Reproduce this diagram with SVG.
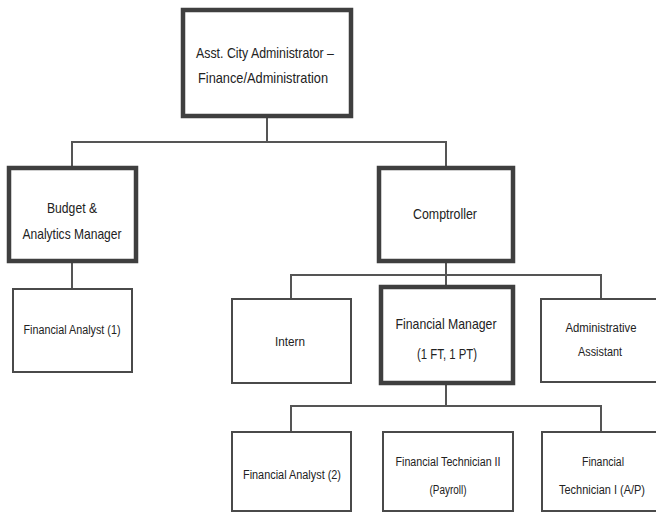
<svg xmlns="http://www.w3.org/2000/svg" width="656" height="514" viewBox="0 0 656 514">
<style>
.bg{fill:#ffffff}
.box{fill:#ffffff;stroke:#4a4a4a;stroke-width:2}
.thick{fill:#ffffff;stroke:#3f3f3f;stroke-width:4.5}
.conn{fill:none;stroke:#555555;stroke-width:2}
text{font-family:"Liberation Sans Narrow","Liberation Sans",Arial,sans-serif;fill:#222222;text-anchor:middle;dominant-baseline:central}
.l{font-size:15px}
.s{font-size:12.5px}
</style>
<rect class="bg" x="0" y="0" width="656" height="514"/>
<g id="connectors">
<path class="conn" d="M267 118 V142 M72 166 V142 H446 V166"/>
<path class="conn" d="M72 263 V288"/>
<path class="conn" d="M446 263 V275 M291 298 V275 H601 V298 M446 275 V285"/>
<path class="conn" d="M446 385 V406 M291 432 V406 H601 V432"/>
</g>
<g id="n-admin">
<rect class="thick" x="183" y="10" width="168" height="106"/>
<text class="l" x="265" y="52" textLength="138" lengthAdjust="spacingAndGlyphs">Asst. City Administrator –</text>
<text class="l" x="263" y="77" textLength="130" lengthAdjust="spacingAndGlyphs">Finance/Administration</text>
</g>
<g id="n-budget">
<rect class="thick" x="9" y="168" width="127" height="93"/>
<text class="l" x="72" y="207" textLength="50" lengthAdjust="spacingAndGlyphs">Budget &amp;</text>
<text class="l" x="72" y="233" textLength="99" lengthAdjust="spacingAndGlyphs">Analytics Manager</text>
</g>
<g id="n-fa1">
<rect class="box" x="13" y="289" width="119" height="83"/>
<text class="s" x="72" y="330" textLength="97" lengthAdjust="spacingAndGlyphs">Financial Analyst (1)</text>
</g>
<g id="n-comptroller">
<rect class="thick" x="379" y="168" width="134" height="93"/>
<text class="l" x="445" y="213" textLength="64" lengthAdjust="spacingAndGlyphs">Comptroller</text>
</g>
<g id="n-intern">
<rect class="box" x="232" y="299" width="119" height="84"/>
<text class="s" x="290" y="342" textLength="30" lengthAdjust="spacingAndGlyphs">Intern</text>
</g>
<g id="n-fm">
<rect class="thick" x="381" y="287" width="132" height="96"/>
<text class="l" x="446" y="323" textLength="101" lengthAdjust="spacingAndGlyphs">Financial Manager</text>
<text class="l" x="447" y="353" textLength="60" lengthAdjust="spacingAndGlyphs">(1 FT, 1 PT)</text>
</g>
<g id="n-aa">
<rect class="box" x="541" y="299" width="118" height="83"/>
<text class="s" x="601" y="328" textLength="71" lengthAdjust="spacingAndGlyphs">Administrative</text>
<text class="s" x="600" y="352" textLength="44" lengthAdjust="spacingAndGlyphs">Assistant</text>
</g>
<g id="n-fa2">
<rect class="box" x="232" y="432" width="119" height="79"/>
<text class="s" x="292" y="475" textLength="98" lengthAdjust="spacingAndGlyphs">Financial Analyst (2)</text>
</g>
<g id="n-ft2">
<rect class="box" x="383" y="432" width="130" height="79"/>
<text class="s" x="448" y="462" textLength="105" lengthAdjust="spacingAndGlyphs">Financial Technician II</text>
<text class="s" x="448" y="490" textLength="37" lengthAdjust="spacingAndGlyphs">(Payroll)</text>
</g>
<g id="n-ft1">
<rect class="box" x="542" y="432" width="118" height="79"/>
<text class="s" x="603" y="462" textLength="42" lengthAdjust="spacingAndGlyphs">Financial</text>
<text class="s" x="602" y="490" textLength="86" lengthAdjust="spacingAndGlyphs">Technician I (A/P)</text>
</g>
</svg>
